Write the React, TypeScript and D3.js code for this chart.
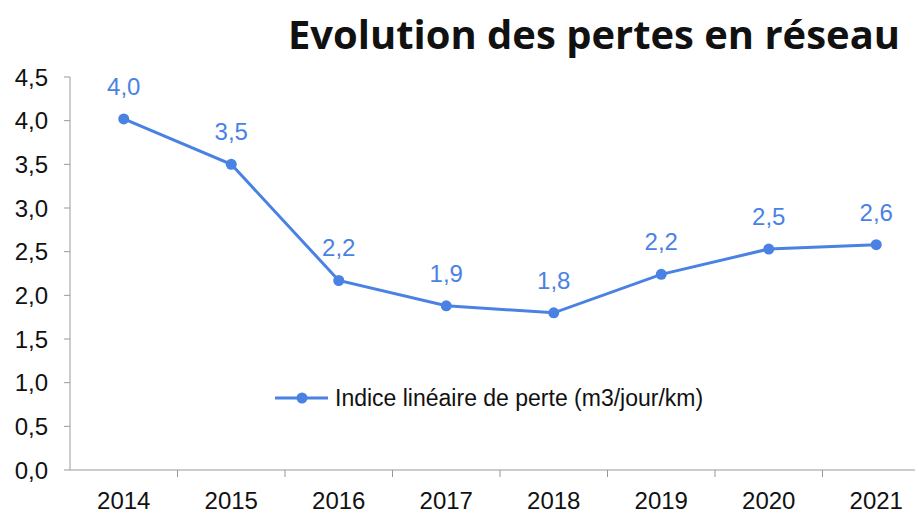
import React from "react";
import * as d3 from "d3";

const years = ["2014", "2015", "2016", "2017", "2018", "2019", "2020", "2021"];
const indice = [4.02, 3.5, 2.17, 1.88, 1.8, 2.24, 2.53, 2.58];
const yTicks = [0, 0.5, 1, 1.5, 2, 2.5, 3, 3.5, 4, 4.5];
const title = "Evolution des pertes en réseau";
const seriesName = "Indice linéaire de perte (m3/jour/km)";

const W = 918, H = 515;
const left = 70, top = 77, bottom = 470;
const band = 107.5;
const blue = "#4a82e4";

export default function App() {
  const x = d3.scaleBand<string>().domain(years).range([left, left + band * years.length]).paddingInner(0).paddingOuter(0);
  const y = d3.scaleLinear().domain([0, 4.5]).range([bottom, top]);
  const cx = (d: string) => (x(d) as number) + x.bandwidth() / 2;
  const line = d3.line<number>().x((_, i) => cx(years[i])).y((v) => y(v));
  const fmt = (v: number) => d3.format(".1f")(v).replace(".", ",");
  const font = "Arial, 'Liberation Sans', sans-serif";
  return (
    <svg width={W} height={H} style={{ position: "absolute", left: 0, top: 0, background: "#fff" }}>
      <rect width={W} height={H} fill="#fff" />
      <text x={900} y={49} textAnchor="end" fontFamily="'Open Sans', Lato, sans-serif" fontWeight={700} fontSize={39} textLength={612} lengthAdjust="spacingAndGlyphs" fill="#111">{title}</text>
      {/* y axis */}
      <line x1={left} x2={left} y1={top} y2={bottom} stroke="#999" strokeWidth={1} />
      {yTicks.map((t) => (
        <g key={t}>
          <line x1={left - 6} x2={left} y1={y(t)} y2={y(t)} stroke="#999" strokeWidth={1} />
          <text x={48} y={y(t)} dy="0.36em" textAnchor="end" fontFamily={font} fontSize={24} fill="#111">{fmt(t)}</text>
        </g>
      ))}
      {/* x axis */}
      <line x1={left} x2={915} y1={bottom} y2={bottom} stroke="#999" strokeWidth={1} />
      {years.map((yr, i) => (
        <g key={yr}>
          {i > 0 && <line x1={x(yr) as number} x2={x(yr) as number} y1={bottom} y2={bottom + 7} stroke="#999" strokeWidth={1} />}
          <text x={cx(yr)} y={509} textAnchor="middle" fontFamily={font} fontSize={24} fill="#111">{yr}</text>
        </g>
      ))}
      <path d={line(indice) || ""} fill="none" stroke={blue} strokeWidth={3} />
      {indice.map((v, i) => (
        <g key={i}>
          <circle cx={cx(years[i])} cy={y(v)} r={5.5} fill={blue} />
          <text x={cx(years[i])} y={y(v) - 24} textAnchor="middle" fontFamily={font} fontSize={24} fill={blue}>{fmt(v)}</text>
        </g>
      ))}
      {/* legend */}
      <line x1={275} x2={328} y1={398} y2={398} stroke={blue} strokeWidth={3} />
      <circle cx={302} cy={398} r={5.5} fill={blue} />
      <text x={335} y={398} dy="0.36em" fontFamily={font} fontSize={23} fill="#111">{seriesName}</text>
    </svg>
  );
}
